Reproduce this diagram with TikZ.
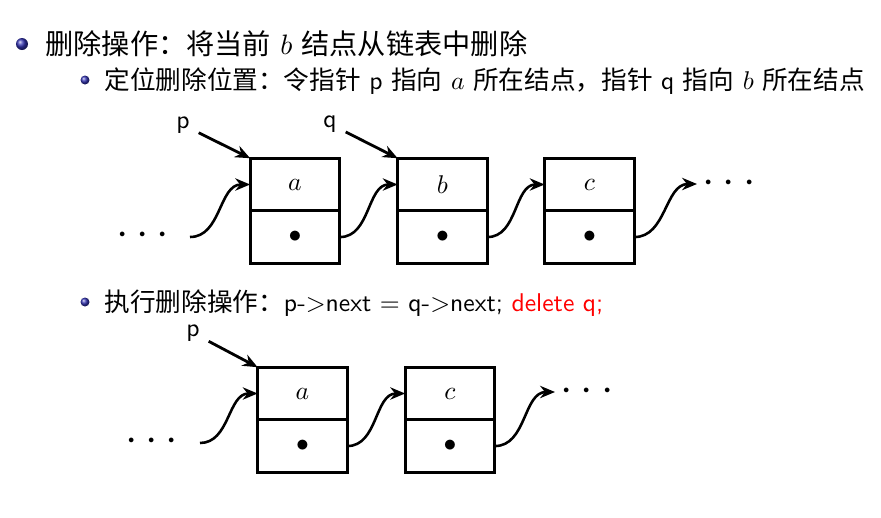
\documentclass[tikz,border=0pt]{standalone}
\usepackage{amsmath}
\usepackage{amssymb}
\usepackage{fontspec}
\newfontfamily\cjk{Noto Sans CJK SC}
\usetikzlibrary{positioning,arrows.meta}
\definecolor{beamerblue}{rgb}{0.2,0.2,0.7}
\tikzset{
	cell/.style={draw, line width=1.2pt, minimum width=35pt, minimum height=20.5pt, inner sep=0pt, outer sep=0pt},
	link/.style={-{Stealth[length=5.8pt,width=4.8pt]}, line width=1pt},
	ptr/.style={-{Stealth[length=5.8pt,width=4.8pt]}, line width=1.1pt},
	item/.style={anchor=base west, inner sep=0pt},
	lbl/.style={font=\sffamily\fontsize{10}{12}\selectfont},
	dots/.style={font=\fontsize{17}{20}\selectfont, inner sep=2pt},
}
\newcommand{\tridots}{${\cdot}\hspace{3.1pt}{\cdot}\hspace{3.1pt}{\cdot}$}

\begin{document}
\begin{tikzpicture}[x=0.39pt,y=0.39pt]
	\useasboundingbox (0,0) rectangle (881,517);

	% bullets
	\shade[ball color=beamerblue] (22,473) circle (6);
	\shade[ball color=beamerblue] (85,437) circle (4.5);
	\shade[ball color=beamerblue] (85,215) circle (4.5);

	\node[item, font=\sffamily\fontsize{11}{13}\selectfont] (t1) at (45,463) {{\cjk 删除操作：将当前} $b$ {\cjk 结点从链表中删除}};
	\node[item, font=\sffamily\fontsize{10}{12}\selectfont] (t2) at (104,428) {{\cjk 定位删除位置：令指针} p {\cjk 指向} $a$ {\cjk 所在结点，指针} q {\cjk 指向} $b$ {\cjk 所在结点}};
	\node[item, font=\sffamily\fontsize{10}{12}\selectfont] (t3) at (104,206) {{\cjk 执行删除操作：}p-$>$next $=$ q-$>$next; \textcolor{red}{delete q;}};

	% before deletion
	\node[cell] (a) at (295,332.5) {$a$};
	\node[cell, below=0pt of a] (an) {$\bullet$};
	\node[cell] (b) at (442.5,332.5) {$b$};
	\node[cell, below=0pt of b] (bn) {$\bullet$};
	\node[cell] (c) at (589.5,332.5) {$c$};
	\node[cell, below=0pt of c] (cn) {$\bullet$};

	\node[dots] (ldots) at (143,281) {\tridots};
	\coordinate (lstart) at (190,280);
	\node[dots, anchor=west] (rdots) at (697,333) {\tridots};

	\draw[link] (lstart) to[out=0,in=180] (a.west);
	\draw[link] (an.east) to[out=0,in=180] (b.west);
	\draw[link] (bn.east) to[out=0,in=180] (c.west);
	\draw[link] (cn.east) to[out=0,in=180] (rdots.west);

	\node[lbl] (p) at (183,392) {p};
	\node[lbl] (q) at (330,393) {q};
	\draw[ptr] (p) -- (a.north west);
	\draw[ptr] (q) -- (b.north west);

	% after deletion
	\node[cell] (a2) at (302.5,123.5) {$a$};
	\node[cell, below=0pt of a2] (a2n) {$\bullet$};
	\node[cell] (c2) at (450,123.5) {$c$};
	\node[cell, below=0pt of c2] (c2n) {$\bullet$};

	\node[dots] (ldots2) at (152,75) {\tridots};
	\coordinate (lstart2) at (200,74);
	\node[dots, anchor=west] (rdots2) at (555,125) {\tridots};

	\draw[link] (lstart2) to[out=0,in=180] (a2.west);
	\draw[link] (a2n.east) to[out=0,in=180] (c2.west);
	\draw[link] (c2n.east) to[out=0,in=180] (rdots2.west);

	\node[lbl] (p2) at (193,184) {p};
	\draw[ptr] (p2) -- (a2.north west);
\end{tikzpicture}
\end{document}
